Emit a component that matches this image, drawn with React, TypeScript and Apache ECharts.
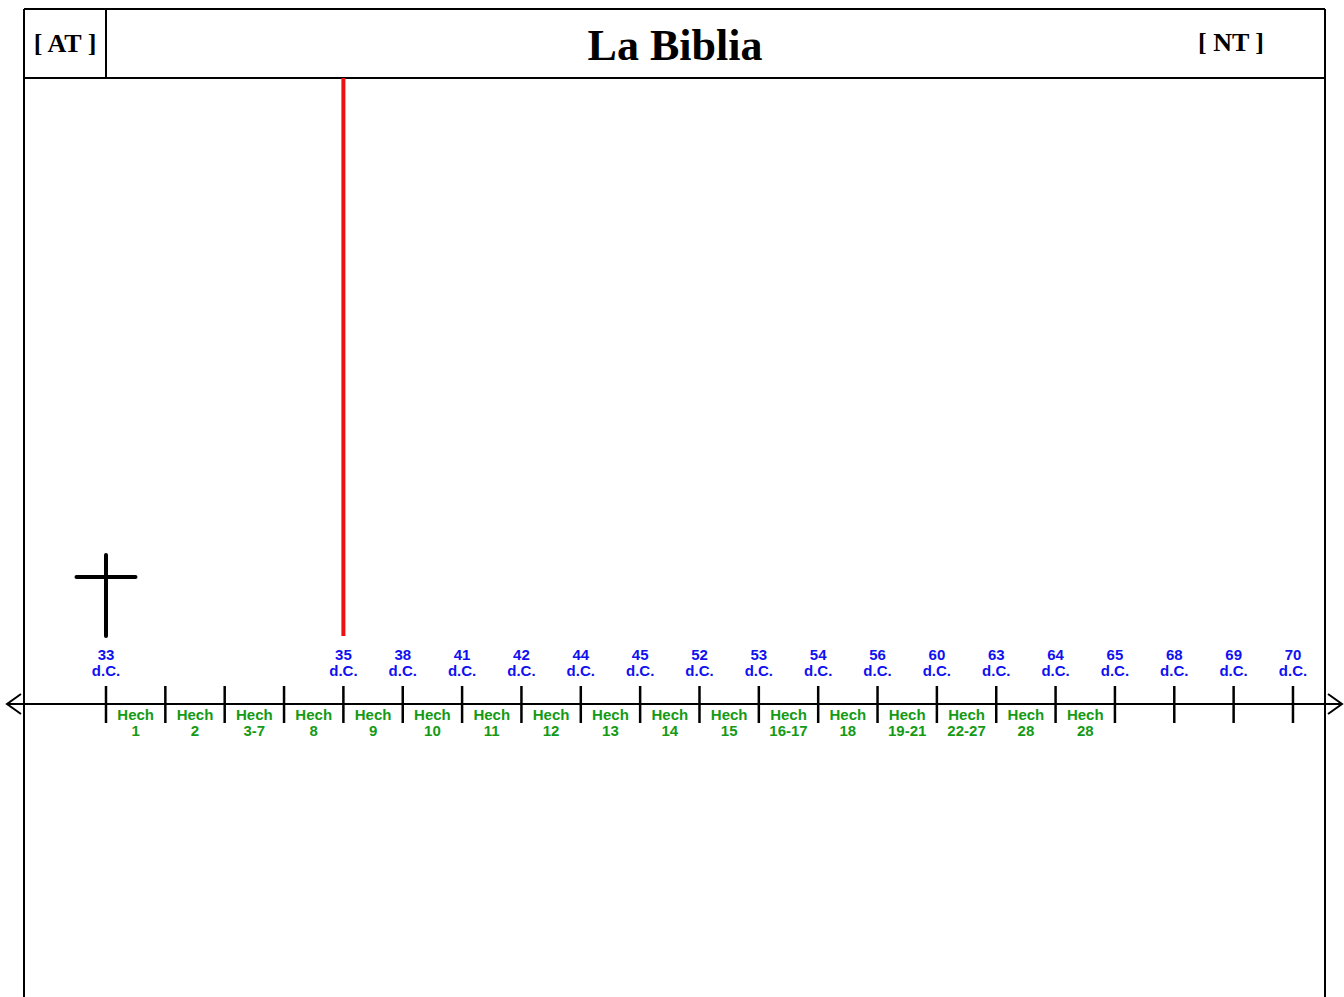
import React, { useEffect, useRef } from "react";
import * as echarts from "echarts";

// Timeline ticks (years) – empty string = tick without year label
const TICK_YEARS = ["33", "", "", "", "35", "38", "41", "42", "44", "45", "52", "53", "54", "56", "60", "63", "64", "65", "68", "69", "70"];
// Chapters of Acts placed between consecutive ticks
const CHAPTERS = ["1", "2", "3-7", "8", "9", "10", "11", "12", "13", "14", "15", "16-17", "18", "19-21", "22-27", "28", "28"];
const CHAPTER_PREFIX = "Hech";
const YEAR_SUFFIX = "d.C.";
// Event markers (tick index)
const CROSS_TICK = 0;
const RED_LINE_TICK = 4;

const TITLE = "La Biblia";
const LEFT_TAG = "[ AT ]";
const RIGHT_TAG = "[ NT ]";

const BLUE = "#1010f0";
const GREEN = "#149a14";
const SANS = '"Liberation Sans", Arial, sans-serif';
const SERIF = '"Liberation Serif", "Times New Roman", serif';

export default function App() {
  const ref = useRef<HTMLDivElement>(null);
  useEffect(() => {
    if (!ref.current) return;
    const chart = echarts.init(ref.current, undefined, { renderer: "svg" });

    const tickData = TICK_YEARS.map((_, i) => [i, 0]);
    const chapterData = CHAPTERS.map((_, i) => [i + 0.5, 0]);

    const option: any = {
      animation: false,
      backgroundColor: "#ffffff",
      grid: { left: 7, right: 2, top: 78, bottom: 0 },
      xAxis: { type: "value", min: -1.668, max: 20.826, show: false },
      yAxis: { type: "value", min: -293, max: 626, show: false },
      graphic: [
        { type: "line", shape: { x1: 24, y1: 9, x2: 1325, y2: 9 }, style: { stroke: "#000", lineWidth: 2 } },
        { type: "line", shape: { x1: 24, y1: 78, x2: 1325, y2: 78 }, style: { stroke: "#000", lineWidth: 2 } },
        { type: "line", shape: { x1: 24, y1: 9, x2: 24, y2: 997 }, style: { stroke: "#000", lineWidth: 2 } },
        { type: "line", shape: { x1: 1325, y1: 9, x2: 1325, y2: 997 }, style: { stroke: "#000", lineWidth: 2 } },
        { type: "line", shape: { x1: 106, y1: 9, x2: 106, y2: 78 }, style: { stroke: "#000", lineWidth: 2 } },
        {
          type: "text", x: 675, y: 45,
          style: { text: TITLE, font: `bold 44px ${SERIF}`, fill: "#000", align: "center", verticalAlign: "middle" },
        },
        {
          type: "text", x: 65, y: 43,
          style: { text: LEFT_TAG, font: `bold 26px ${SERIF}`, fill: "#000", align: "center", verticalAlign: "middle" },
        },
        {
          type: "text", x: 1231, y: 42,
          style: { text: RIGHT_TAG, font: `bold 26px ${SERIF}`, fill: "#000", align: "center", verticalAlign: "middle" },
        },
      ],
      series: [
        {
          type: "custom",
          name: "axis",
          data: [[0, 0]],
          renderItem: (params: any, api: any) => {
            const cs = params.coordSys;
            const y = api.coord([0, 0])[1];
            const x1 = cs.x;
            const x2 = cs.x + cs.width;
            const st = { stroke: "#000", lineWidth: 2, fill: "none" };
            return {
              type: "group",
              children: [
                { type: "line", shape: { x1, y1: y, x2, y2: y }, style: st },
                { type: "polyline", shape: { points: [[x1 + 14, y - 10], [x1, y], [x1 + 14, y + 10]] }, style: st },
                { type: "polyline", shape: { points: [[x2 - 14, y - 10], [x2, y], [x2 - 14, y + 10]] }, style: st },
              ],
            };
          },
        },
        {
          type: "custom",
          name: "ticks",
          data: tickData,
          renderItem: (params: any, api: any) => {
            const i = params.dataIndex;
            const p = api.coord([api.value(0), api.value(1)]);
            const children: any[] = [
              { type: "line", shape: { x1: p[0], y1: p[1] - 18, x2: p[0], y2: p[1] + 19 }, style: { stroke: "#000", lineWidth: 2.5 } },
            ];
            if (TICK_YEARS[i]) {
              children.push({
                type: "text", x: p[0], y: p[1] - 50,
                style: { text: TICK_YEARS[i], font: `bold 15px ${SANS}`, fill: BLUE, align: "center", verticalAlign: "middle" },
              });
              children.push({
                type: "text", x: p[0], y: p[1] - 34,
                style: { text: YEAR_SUFFIX, font: `bold 15px ${SANS}`, fill: BLUE, align: "center", verticalAlign: "middle" },
              });
            }
            return { type: "group", children };
          },
        },
        {
          type: "custom",
          name: "chapters",
          data: chapterData,
          renderItem: (params: any, api: any) => {
            const i = params.dataIndex;
            const p = api.coord([api.value(0), api.value(1)]);
            return {
              type: "group",
              children: [
                {
                  type: "text", x: p[0], y: p[1] + 10,
                  style: { text: CHAPTER_PREFIX, font: `bold 15px ${SANS}`, fill: GREEN, align: "center", verticalAlign: "middle" },
                },
                {
                  type: "text", x: p[0], y: p[1] + 26,
                  style: { text: CHAPTERS[i], font: `bold 15px ${SANS}`, fill: GREEN, align: "center", verticalAlign: "middle" },
                },
              ],
            };
          },
        },
        {
          type: "custom",
          name: "events",
          data: [[RED_LINE_TICK, 0], [CROSS_TICK, 1]],
          renderItem: (params: any, api: any) => {
            const x = api.value(0);
            const kind = api.value(1);
            if (kind === 0) {
              const a = api.coord([x, 68]);
              const b = api.coord([x, 626]);
              return { type: "line", shape: { x1: a[0], y1: a[1], x2: b[0], y2: b[1] }, style: { stroke: "#ee1111", lineWidth: 4 } };
            }
            const a = api.coord([x, 68]);
            const b = api.coord([x, 149]);
            const c = api.coord([x - 0.497, 127]);
            const d = api.coord([x + 0.497, 127]);
            const st = { stroke: "#000", lineWidth: 4, lineCap: "round" };
            return {
              type: "group",
              children: [
                { type: "line", shape: { x1: a[0], y1: a[1], x2: b[0], y2: b[1] }, style: st },
                { type: "line", shape: { x1: c[0], y1: c[1], x2: d[0], y2: d[1] }, style: st },
              ],
            };
          },
        },
      ],
    };
    chart.setOption(option);
    return () => chart.dispose();
  }, []);
  return <div ref={ref} style={{ position: "fixed", left: 0, top: 0, width: 1344, height: 997 }} />;
}
